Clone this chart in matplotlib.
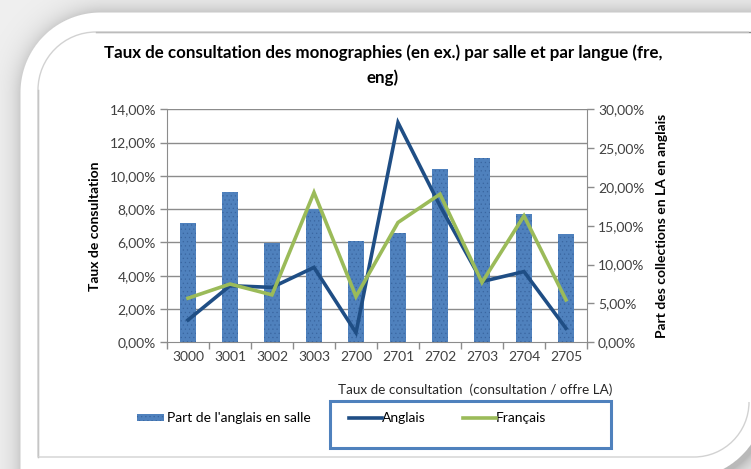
import numpy as np
import matplotlib
matplotlib.use("Agg")
import matplotlib.pyplot as plt
from matplotlib.path import Path
from matplotlib.patches import PathPatch, Rectangle
from matplotlib.lines import Line2D
from matplotlib.ticker import FuncFormatter, MultipleLocator

# ---------------- data ----------------
categories = ["3000", "3001", "3002", "3003", "2700", "2701", "2702", "2703", "2704", "2705"]
part_anglais_salle = [15.3, 19.4, 12.8, 17.2, 13.1, 14.1, 22.3, 23.7, 16.5, 13.9]   # right axis (%)
taux_anglais = [1.34, 3.4, 3.3, 4.5, 0.58, 13.2, 8.2, 3.65, 4.25, 0.84]              # left axis (%)
taux_francais = [2.65, 3.5, 2.85, 9.0, 2.75, 7.2, 8.9, 3.6, 7.6, 2.55]               # left axis (%)

title = "Taux de consultation des monographies (en ex.) par salle et par langue (fre,\neng)"
ylabel_left = "Taux de consultation"
ylabel_right = "Part des collections en LA en anglais"
legend_bar = "Part de l'anglais en salle"
legend_title = "Taux de consultation  (consultation / offre LA)"
legend_lines = ["Anglais", "Français"]

FONT = ["Lato", "DejaVu Sans"]
plt.rcParams["font.family"] = FONT
plt.rcParams["hatch.linewidth"] = 0.4

W, H = 751, 469
fig = plt.figure(figsize=(W / 100, H / 100), dpi=100)

# ---------------- background with shadow ----------------
def sdf_round_rect(px, py, x0, y0, x1, y1, r):
    cx, cy = (x0 + x1) / 2, (y0 + y1) / 2
    hx, hy = (x1 - x0) / 2, (y1 - y0) / 2
    qx = np.abs(px - cx) - (hx - r)
    qy = np.abs(py - cy) - (hy - r)
    out = np.sqrt(np.maximum(qx, 0) ** 2 + np.maximum(qy, 0) ** 2)
    return out + np.minimum(np.maximum(qx, qy), 0) - r

def card_sdf(px, py, dx=0, dy=0):
    d1 = sdf_round_rect(px, py, 20 + dx, 12 + dy, 765 + dx, 478 + dy, 80)
    d2 = sdf_round_rect(px, py, 300 + dx, 12 + dy, 900 + dx, 300 + dy, 0.01)
    d3 = sdf_round_rect(px, py, 20 + dx, 200 + dy, 400 + dx, 600 + dy, 0.01)
    return np.minimum(np.minimum(d1, d2), d3)

yy, xx = np.mgrid[0:H, 0:W].astype(float)
bg = np.full((H, W), 240.0)
d_sh = card_sdf(xx, yy, 4, 3)
shadow = np.where(d_sh > 0, np.exp(-d_sh / 10.0), 1.0)
img = bg - 55 * shadow
d_main = card_sdf(xx, yy)
alpha = np.clip(0.5 - d_main, 0, 1)
img = img * (1 - alpha) + 255 * alpha
img = np.clip(img, 0, 255) / 255.0
rgb = np.dstack([img, img, img])
fig.figimage(rgb, xo=0, yo=0, origin="upper", zorder=-5)

def fx(x):
    return x / W

def fy(y):
    return 1 - y / H

# inner border: rounded top-left and bottom-right corners
x0, y0, x1, y1 = 38, 32, 749, 457
r1, r2 = 58, 55
k = 0.5523
verts = [
    (x1, y0), (x0 + r1, y0),
    (x0 + r1 - k * r1, y0), (x0, y0 + r1 - k * r1), (x0, y0 + r1),
    (x0, y1), (x1 - r2, y1),
    (x1 - r2 + k * r2, y1), (x1, y1 - r2 + k * r2), (x1, y1 - r2),
]
codes = [Path.MOVETO, Path.LINETO, Path.CURVE4, Path.CURVE4, Path.CURVE4,
         Path.LINETO, Path.LINETO, Path.CURVE4, Path.CURVE4, Path.CURVE4]
verts_f = [(fx(a), fy(b)) for a, b in verts]
fig.patches.append(PathPatch(Path(verts_f, codes), transform=fig.transFigure,
                             facecolor="none", edgecolor="#d2d2d2", lw=1.0, zorder=1))
fig.lines.append(Line2D([fx(x0 + r1), fx(W)], [fy(y0), fy(y0)], transform=fig.transFigure,
                        color="#8a8a8a", lw=1.0, zorder=1))
fig.lines.append(Line2D([fx(x0), fx(x0)], [fy(y0 + r1), fy(y1)], transform=fig.transFigure,
                        color="#a8a8a8", lw=1.0, zorder=1))

# ---------------- axes ----------------
ax_l, ax_r, ax_t, ax_b = 167, 587, 109.3, 342.3
ax = fig.add_axes([fx(ax_l), fy(ax_b), fx(ax_r) - fx(ax_l), (ax_b - ax_t) / H])
ax2 = ax.twinx()
ax.set_zorder(ax2.get_zorder() + 1)
ax.patch.set_visible(False)
ax2.patch.set_visible(False)

x = np.arange(len(categories))
LMAX, RMAX = 14, 30

# gridlines (behind bars) aligned with left-axis ticks
grid_vals = np.arange(0, LMAX + 0.01, 2) * RMAX / LMAX
ax2.hlines(grid_vals[1:], -0.5, len(categories) - 0.5, colors="#8c8c8c", lw=1.0, zorder=0)

ax2.bar(x, part_anglais_salle, width=0.4, color="#4f81bd", edgecolor="#3a66a0",
        linewidth=0, hatch="....", zorder=2)

ax.plot(x, taux_anglais, color="#1f4e85", lw=2.6, solid_joinstyle="miter", zorder=3)
ax.plot(x, taux_francais, color="#9bbb59", lw=2.6, solid_joinstyle="miter", zorder=4)

ax.set_xlim(-0.5, len(categories) - 0.5)
ax.set_ylim(0, LMAX)
ax2.set_ylim(0, RMAX)

fmt = FuncFormatter(lambda v, p: f"{v:.2f}".replace(".", ",") + "%")
ax.yaxis.set_major_locator(MultipleLocator(2))
ax.yaxis.set_major_formatter(fmt)
ax2.yaxis.set_major_locator(MultipleLocator(5))
ax2.yaxis.set_major_formatter(fmt)

ax.set_xticks(x)
ax.set_xticklabels(categories)
ax.set_xticks(np.arange(-0.5, len(categories)), minor=True)
ax.tick_params(axis="x", which="major", length=0, pad=6)
ax.tick_params(axis="x", which="minor", length=5, color="#8c8c8c", width=1)

tick_color = "#404040"
for a in (ax, ax2):
    for s in a.spines.values():
        s.set_visible(False)
    a.tick_params(axis="y", length=5, color="#8c8c8c", width=1, labelsize=10,
                  labelcolor=tick_color, pad=3)
ax.tick_params(axis="x", labelsize=10, labelcolor=tick_color)
ax.spines["left"].set_visible(True)
ax.spines["left"].set_color("#8c8c8c")
ax.spines["bottom"].set_visible(True)
ax.spines["bottom"].set_color("#8c8c8c")
ax2.spines["right"].set_visible(True)
ax2.spines["right"].set_color("#8c8c8c")
ax2.tick_params(axis="x", length=0)

ax.set_ylabel(ylabel_left, fontsize=10, fontweight="bold", color="black", labelpad=6)
ax2.set_ylabel(ylabel_right, fontsize=10, fontweight="bold", color="black", labelpad=8)

# ---------------- title ----------------
fig.text(fx(383), fy(65.5), title, ha="center", va="center", fontsize=12.2,
         fontweight="bold", color="black", linespacing=1.6)

# ---------------- legend ----------------
fig.patches.append(Rectangle((fx(137), fy(421)), fx(164) - fx(137), 7 / H,
                             transform=fig.transFigure, facecolor="#4f81bd",
                             edgecolor="#3a66a0", hatch="....", lw=0, zorder=5))
fig.text(fx(167), fy(418), legend_bar, ha="left", va="center", fontsize=10, color="black")

fig.patches.append(Rectangle((fx(330), fy(448)), fx(611) - fx(330), (448 - 401) / H,
                             transform=fig.transFigure, facecolor="none",
                             edgecolor="#4f81bd", lw=2.2, zorder=5))
fig.text(fx(612), fy(390), legend_title, ha="right", va="center", fontsize=9.7, color="#262626")
fig.lines.append(Line2D([fx(349), fx(382)], [fy(418), fy(418)], transform=fig.transFigure,
                        color="#1f4e85", lw=2.6, zorder=5))
fig.text(fx(382), fy(418), legend_lines[0], ha="left", va="center", fontsize=10, color="black")
fig.lines.append(Line2D([fx(463), fx(496)], [fy(418), fy(418)], transform=fig.transFigure,
                        color="#9bbb59", lw=2.6, zorder=5))
fig.text(fx(496), fy(418), legend_lines[1], ha="left", va="center", fontsize=10, color="black")

fig.savefig("out.png", dpi=100)
